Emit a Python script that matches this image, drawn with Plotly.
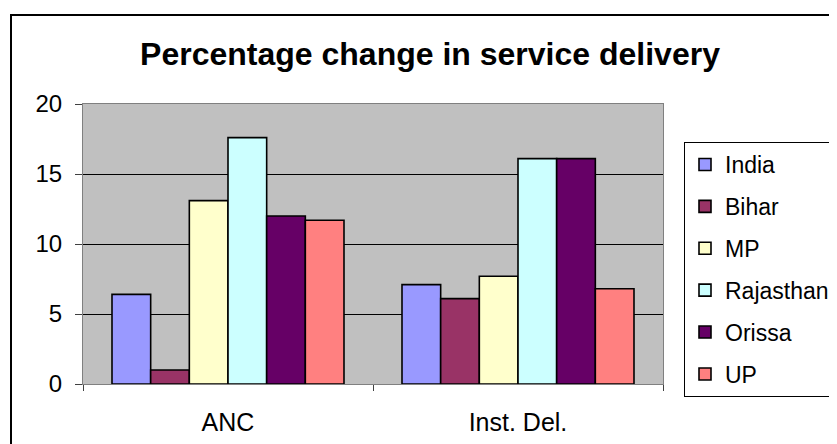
import plotly.graph_objects as go

categories = ["ANC", "Inst. Del."]
series_names = ["India", "Bihar", "MP", "Rajasthan", "Orissa", "UP"]
india = [6.4, 7.1]
bihar = [1.0, 6.1]
mp = [13.1, 7.7]
rajasthan = [17.6, 16.1]
orissa = [12.0, 16.1]
up = [11.7, 6.8]
colors = ["#9999FF", "#993366", "#FFFFCC", "#CCFFFF", "#660066", "#FF8080"]
y_ticks = [0, 5, 10, 15, 20]

series_values = [india, bihar, mp, rajasthan, orissa, up]

W, H = 837, 444
OFF = 8  # page body offset
L, R, T, B = 83 - OFF, 663 - OFF, 104 - OFF, 384 - OFF

fig = go.Figure()
for name, vals, col in zip(series_names, series_values, colors):
    fig.add_trace(go.Bar(
        x=categories, y=vals, name=name, legendgroup=name,
        marker=dict(color=col, line=dict(color="black", width=1.6)),
    ))

pw, ph = R - L, B - T
def px(x):
    return (x - OFF - L) / pw
def py(y):
    return (B - (y - OFF)) / ph

fig.update_layout(
    width=W, height=H,
    margin=dict(l=L, r=W - R, t=T, b=H - B, pad=0, autoexpand=False),
    paper_bgcolor="white",
    plot_bgcolor="#C0C0C0",
    barmode="group", bargap=0.2, bargroupgap=0,
    font=dict(family="Arial, Liberation Sans, sans-serif", color="black", size=24),
    title=dict(text="<b>Percentage change in service delivery</b>",
               x=px(430), xref="paper", xanchor="center",
               y=1 - (54 - OFF) / H, yref="container", yanchor="middle",
               font=dict(size=32, color="black")),
    showlegend=True,
    legend=dict(x=px(684), y=py(142), xanchor="left", yanchor="top",
                bgcolor="white", bordercolor="black", borderwidth=1,
                font=dict(size=23), tracegroupgap=9, traceorder="grouped",
                itemwidth=30),
    xaxis=dict(showgrid=False, showline=True, linecolor="#808080", linewidth=1,
               ticks="outside", ticklen=6, tickcolor="#404040",
               tickson="boundaries", ticklabelstandoff=16,
               mirror=True, tickfont=dict(size=25)),
    yaxis=dict(range=[0, 20], tickvals=y_ticks, showgrid=True, gridcolor="black",
               gridwidth=1, showline=True, linecolor="#808080", linewidth=1,
               ticks="outside", ticklen=7, tickcolor="#404040",
               ticklabelstandoff=8, mirror=True, zeroline=False,
               tickfont=dict(size=24)),
    shapes=[dict(type="rect", xref="paper", yref="paper",
                 x0=px(11), x1=px(900), y0=py(500), y1=py(15),
                 line=dict(color="black", width=2), fillcolor="rgba(0,0,0,0)",
                 layer="above")],
)

fig.write_html("out.html")
